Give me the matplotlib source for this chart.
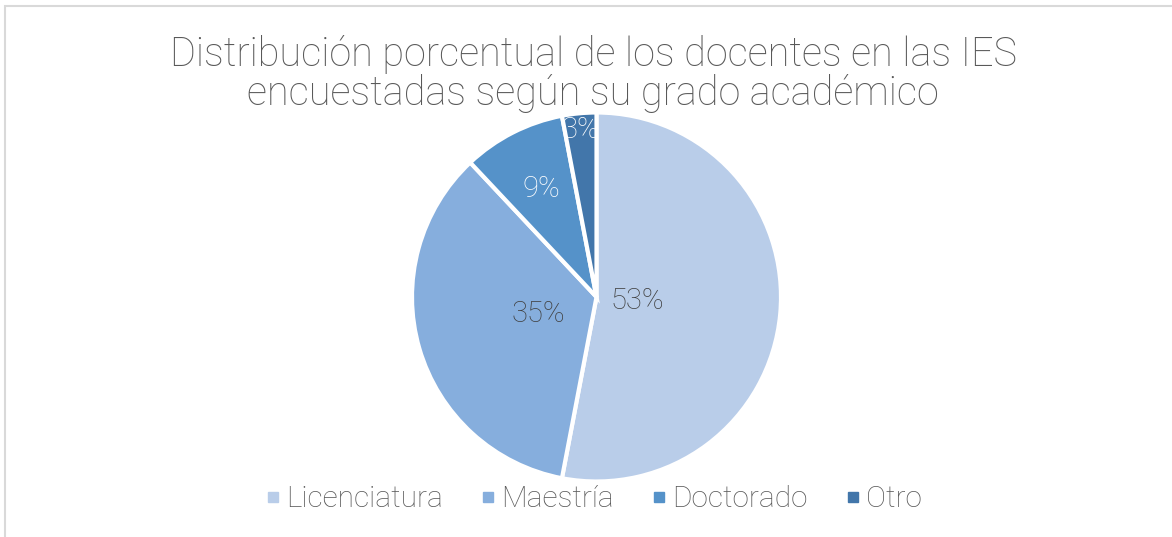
import matplotlib
matplotlib.use("Agg")
import matplotlib.pyplot as plt
from matplotlib.patches import Rectangle
from matplotlib.lines import Line2D
import numpy as np

categorias = ['Licenciatura', 'Maestría', 'Doctorado', 'Otro']
porcentajes = [53, 35, 9, 3]
colores = ['#B9CDE9', '#86AEDD', '#5592C9', '#4276AA']
color_etiqueta = ['#404040', '#404040', 'white', 'white']
dist_etiqueta = [0.22, 0.33, 0.66, 0.91]

plt.rcParams['font.family'] = ['Roboto', 'DejaVu Sans']
plt.rcParams['font.weight'] = 'light'

W, H = 1172, 537
fig = plt.figure(figsize=(W / 100, H / 100), dpi=100)

# borde gris del cuadro del grafico
fig.patches.append(Rectangle((5 / W, -0.1), 1.2, (H - 6) / H + 0.1,
                             transform=fig.transFigure, fill=False,
                             edgecolor='#D9D9D9', linewidth=1.5))

r = 184.5
cx, cy = 596.5, H - 297
ax = fig.add_axes([(cx - r) / W, (cy - r) / H, 2 * r / W, 2 * r / H])

wedges, _ = ax.pie(porcentajes, colors=colores, startangle=90, counterclock=False,
                   wedgeprops=dict(edgecolor='white', linewidth=3))
ax.set_xlim(-1, 1)
ax.set_ylim(-1, 1)
ax.set_aspect('equal')
ax.axis('off')

for w, p, c, d in zip(wedges, porcentajes, color_etiqueta, dist_etiqueta):
    ang = np.deg2rad((w.theta1 + w.theta2) / 2)
    ax.text(d * np.cos(ang), d * np.sin(ang), f'{p}%', ha='center', va='center',
            fontsize=21, color=c)

fig.text(593 / W, (H - 74) / H,
         'Distribución porcentual de los docentes en las IES\nencuestadas según su grado académico',
         ha='center', va='center', fontsize=28.5, color='#595959',
         linespacing=1.0)

handles = [Line2D([], [], marker='s', linestyle='', markersize=7, color=c) for c in colores]
fig.legend(handles, categorias, loc='center', bbox_to_anchor=(593 / W, 38 / H), ncol=4,
           frameon=False, fontsize=21.5, labelcolor='#595959', handletextpad=0.15,
           columnspacing=1.2, handlelength=0.6)

fig.savefig('out.png', dpi=100)
